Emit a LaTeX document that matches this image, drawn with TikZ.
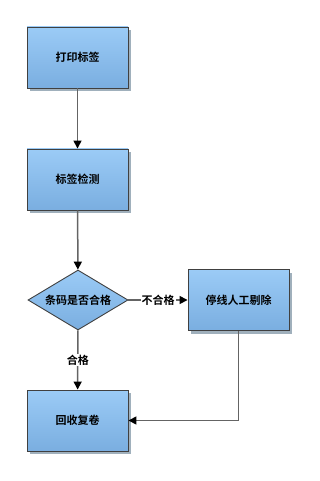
\documentclass[tikz,border=0pt]{standalone}
\usepackage{fontspec}
\newfontfamily\cjk[BoldFont={Noto Sans CJK SC Bold}]{Noto Sans CJK SC}
\usepackage{tikz}
\usetikzlibrary{shapes.geometric, shadows, arrows.meta, positioning}
\definecolor{boxtop}{RGB}{155,203,246}
\definecolor{boxbot}{RGB}{122,174,224}
\definecolor{shdw}{RGB}{160,176,188}
\definecolor{lnkc}{RGB}{100,100,100}
\tikzset{boxr/.style={rectangle,draw=black!75,line width=0.9pt,minimum width=101pt,minimum height=61pt,inner sep=0pt,top color=boxtop,bottom color=boxbot,drop shadow={shadow xshift=3pt,shadow yshift=-3pt,fill=shdw,opacity=1},font=\cjk\bfseries\fontsize{11pt}{13pt}\selectfont}}
\tikzset{qdia/.style={diamond,draw=black!75,line width=0.9pt,minimum width=100pt,minimum height=60pt,aspect=1.667,inner sep=0pt,top color=boxtop,bottom color=boxbot,font=\cjk\bfseries\fontsize{11pt}{13pt}\selectfont}}
\tikzset{lnk/.style={draw=lnkc,line width=1.5pt}}
\tikzset{lbl/.style={fill=white,inner sep=1pt,font=\cjk\bfseries\fontsize{11pt}{13pt}\selectfont}}

\begin{document}
\begin{tikzpicture}[x=1pt,y=-1pt,>={Triangle[length=8pt,width=8pt,color=black]}]
\useasboundingbox (0,0) rectangle (319,481);
\node [boxr] at (77.5,57.5) (prn) {打印标签};
\node [boxr] at (77.5,179.5) (chk) {标签检测}
	edge [lnk,<-] (prn);
\node [qdia] at (78,300) (qok) {条码是否合格}
	edge [lnk,<-] (chk);
\node [boxr] at (238.5,300) (stop) {停线人工剔除}
	edge [lnk,<-] node [lbl] {不合格} (qok);
\node [boxr] at (77.5,420.5) (rewd) {回收复卷}
	edge [lnk,<-] node [lbl] {合格} (qok);

\draw [lnk,->] (stop) |- (rewd);
\end{tikzpicture}
\end{document}
